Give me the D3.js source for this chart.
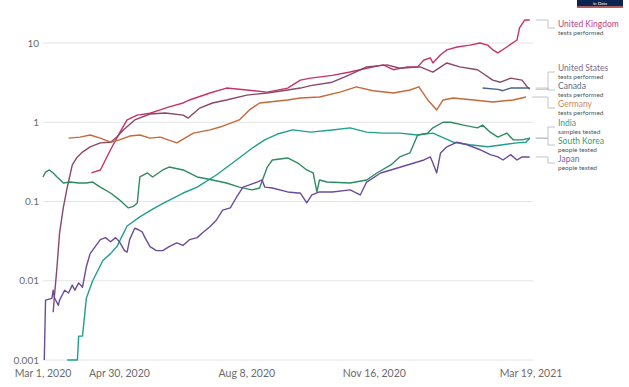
<!DOCTYPE html>
<html>
<head>
<meta charset="utf-8">
<script src="https://cdn.jsdelivr.net/npm/d3@7"></script>
<style>
  html, body { margin: 0; padding: 0; background: #fff; }
  svg { display: block; font-family: Lato, "Liberation Sans", Arial, sans-serif; }
</style>
</head>
<body>
<svg id="chart" width="629" height="387"></svg>
<script>
// Daily COVID-19 tests per thousand people (7-day smoothed), log scale.

const unitedKingdom = [["2020-04-08",0.23],["2020-04-15",0.25],["2020-04-23",0.45],["2020-04-30",0.73],["2020-05-06",1.07],["2020-05-14",1.23],["2020-05-24",1.3],["2020-06-01",1.43],["2020-06-08",1.56],["2020-06-19",1.75],["2020-06-24",1.91],["2020-07-10",2.34],["2020-07-23",2.7],["2020-08-08",2.55],["2020-08-24",2.4],["2020-09-09",2.7],["2020-09-19",3.4],["2020-09-27",3.6],["2020-10-14",3.9],["2020-10-28",4.3],["2020-11-10",4.8],["2020-11-23",5.3],["2020-12-01",4.6],["2020-12-12",5.0],["2020-12-20",5.0],["2020-12-25",6.1],["2020-12-30",6.5],["2021-01-01",5.6],["2021-01-07",7.1],["2021-01-12",8.2],["2021-01-20",8.9],["2021-01-30",9.4],["2021-02-07",10],["2021-02-13",9.4],["2021-02-17",8.2],["2021-02-21",7.5],["2021-02-28",8.9],["2021-03-08",10.9],["2021-03-10",15.5],["2021-03-14",19.5],["2021-03-18",19.5]];

const unitedStates = [["2020-03-09",0.004],["2020-03-10",0.0065],["2020-03-12",0.015],["2020-03-14",0.04],["2020-03-17",0.085],["2020-03-20",0.15],["2020-03-24",0.29],["2020-03-28",0.365],["2020-04-01",0.42],["2020-04-07",0.49],["2020-04-15",0.55],["2020-04-23",0.56],["2020-04-28",0.65],["2020-05-03",0.8],["2020-05-12",1.07],["2020-05-24",1.27],["2020-06-05",1.31],["2020-06-19",1.23],["2020-06-23",1.13],["2020-07-02",1.51],["2020-07-12",1.75],["2020-07-23",1.91],["2020-08-08",2.2],["2020-08-24",2.34],["2020-09-09",2.55],["2020-09-19",2.7],["2020-09-27",2.9],["2020-10-14",3.2],["2020-10-28",4.0],["2020-11-10",5.0],["2020-11-26",5.3],["2020-12-06",4.8],["2020-12-22",5.0],["2021-01-01",4.3],["2021-01-12",5.6],["2021-01-22",5.0],["2021-02-05",4.6],["2021-02-17",3.4],["2021-02-23",3.2],["2021-03-03",3.6],["2021-03-12",3.4],["2021-03-16",2.8],["2021-03-18",2.6]];

const canada = [["2021-02-09",2.7],["2021-02-21",2.6],["2021-02-25",2.5],["2021-03-03",2.7],["2021-03-18",2.7]];

const germany = [["2020-03-21",0.63],["2020-03-30",0.65],["2020-04-07",0.69],["2020-04-15",0.63],["2020-04-23",0.56],["2020-04-30",0.6],["2020-05-08",0.67],["2020-05-16",0.69],["2020-05-24",0.63],["2020-06-01",0.65],["2020-06-14",0.55],["2020-06-27",0.73],["2020-07-10",0.8],["2020-07-18",0.87],["2020-08-02",1.07],["2020-08-10",1.43],["2020-08-18",1.75],["2020-09-09",1.91],["2020-09-19",2.02],["2020-10-04",2.08],["2020-10-20",2.4],["2020-11-02",2.8],["2020-11-15",2.5],["2020-12-01",2.34],["2020-12-14",2.55],["2020-12-21",2.8],["2020-12-28",1.91],["2021-01-04",1.43],["2021-01-09",1.91],["2021-01-17",2.02],["2021-02-02",1.91],["2021-02-17",1.8],["2021-03-05",1.91],["2021-03-15",2.08]];

const india = [["2020-03-20",0.001],["2020-03-28",0.001],["2020-03-29",0.002],["2020-04-01",0.002],["2020-04-04",0.006],["2020-04-09",0.01],["2020-04-17",0.018],["2020-04-23",0.022],["2020-04-28",0.027],["2020-05-06",0.049],["2020-05-16",0.064],["2020-05-26",0.08],["2020-06-04",0.096],["2020-06-19",0.128],["2020-06-30",0.152],["2020-07-15",0.216],["2020-08-02",0.354],["2020-08-12",0.47],["2020-08-22",0.6],["2020-09-01",0.71],["2020-09-13",0.8],["2020-09-27",0.75],["2020-10-14",0.8],["2020-10-28",0.85],["2020-11-10",0.75],["2020-11-23",0.73],["2020-12-06",0.73],["2020-12-20",0.69],["2021-01-01",0.73],["2021-01-17",0.56],["2021-01-30",0.52],["2021-02-13",0.49],["2021-02-25",0.52],["2021-03-08",0.55],["2021-03-15",0.56],["2021-03-18",0.63]];

const southKorea = [["2020-03-01",0.204],["2020-03-03",0.235],["2020-03-06",0.25],["2020-03-09",0.229],["2020-03-12",0.204],["2020-03-17",0.171],["2020-03-22",0.176],["2020-03-29",0.171],["2020-04-04",0.171],["2020-04-09",0.176],["2020-04-15",0.152],["2020-04-23",0.128],["2020-04-30",0.105],["2020-05-07",0.083],["2020-05-11",0.087],["2020-05-14",0.096],["2020-05-16",0.204],["2020-05-22",0.229],["2020-05-26",0.204],["2020-06-03",0.25],["2020-06-08",0.272],["2020-06-19",0.25],["2020-06-30",0.204],["2020-07-12",0.187],["2020-07-23",0.171],["2020-08-02",0.152],["2020-08-12",0.14],["2020-08-18",0.148],["2020-08-24",0.272],["2020-08-28",0.334],["2020-09-09",0.354],["2020-09-17",0.306],["2020-09-24",0.25],["2020-09-29",0.229],["2020-10-02",0.132],["2020-10-04",0.187],["2020-10-10",0.176],["2020-10-28",0.171],["2020-11-10",0.187],["2020-11-18",0.229],["2020-11-29",0.289],["2020-12-06",0.365],["2020-12-14",0.41],["2020-12-20",0.69],["2020-12-28",0.73],["2021-01-01",0.85],["2021-01-09",1.0],["2021-01-15",1.0],["2021-01-25",0.92],["2021-02-05",0.85],["2021-02-09",0.92],["2021-02-15",0.75],["2021-02-21",0.65],["2021-02-28",0.73],["2021-03-05",0.6],["2021-03-12",0.6],["2021-03-18",0.63]];

const japan = [["2020-03-02",0.001],["2020-03-03",0.0057],["2020-03-08",0.006],["2020-03-09",0.0076],["2020-03-10",0.0061],["2020-03-13",0.0049],["2020-03-14",0.0057],["2020-03-18",0.0076],["2020-03-21",0.007],["2020-03-24",0.0088],["2020-03-26",0.0076],["2020-03-29",0.0094],["2020-04-01",0.0083],["2020-04-04",0.015],["2020-04-07",0.022],["2020-04-11",0.027],["2020-04-15",0.033],["2020-04-19",0.035],["2020-04-23",0.031],["2020-04-27",0.035],["2020-04-30",0.031],["2020-05-04",0.024],["2020-05-06",0.023],["2020-05-08",0.033],["2020-05-12",0.046],["2020-05-15",0.044],["2020-05-18",0.041],["2020-05-20",0.035],["2020-05-24",0.027],["2020-05-29",0.024],["2020-06-03",0.024],["2020-06-08",0.027],["2020-06-14",0.03],["2020-06-19",0.028],["2020-06-24",0.033],["2020-06-30",0.035],["2020-07-04",0.04],["2020-07-10",0.048],["2020-07-15",0.058],["2020-07-20",0.078],["2020-07-26",0.083],["2020-07-31",0.114],["2020-08-05",0.152],["2020-08-10",0.162],["2020-08-16",0.176],["2020-08-20",0.187],["2020-08-22",0.152],["2020-08-28",0.148],["2020-09-09",0.132],["2020-09-17",0.128],["2020-09-19",0.128],["2020-09-24",0.096],["2020-09-28",0.121],["2020-10-04",0.132],["2020-10-14",0.132],["2020-10-28",0.14],["2020-11-05",0.121],["2020-11-10",0.176],["2020-11-21",0.229],["2020-11-29",0.25],["2020-12-12",0.289],["2020-12-25",0.334],["2020-12-30",0.365],["2021-01-01",0.306],["2021-01-04",0.229],["2021-01-07",0.41],["2021-01-12",0.49],["2021-01-20",0.56],["2021-01-28",0.52],["2021-02-07",0.45],["2021-02-15",0.39],["2021-02-21",0.365],["2021-02-25",0.334],["2021-03-03",0.39],["2021-03-08",0.334],["2021-03-12",0.365],["2021-03-18",0.365]];

const yTickValues = [0.001, 0.01, 0.1, 1, 10];
const yTickLabels = ["0.001", "0.01", "0.1", "1", "10"];
const xTickDates = ["2020-03-01", "2020-04-30", "2020-08-08", "2020-11-16", "2021-03-19"];
const xTickLabels = ["Mar 1, 2020", "Apr 30, 2020", "Aug 8, 2020", "Nov 16, 2020", "Mar 19, 2021"];

const parse = d3.timeParse("%Y-%m-%d");

const series = [
  { name: "United Kingdom", metric: "tests performed", data: unitedKingdom, color: "#c8326c", labelColor: "#c2417a", labelY: 24 },
  { name: "United States",  metric: "tests performed", data: unitedStates,  color: "#8a4768", labelColor: "#7b6c86", labelY: 68 },
  { name: "Canada",         metric: "tests performed", data: canada,        color: "#4a6388", labelColor: "#5d6b86", labelY: 86 },
  { name: "Germany",        metric: "tests performed", data: germany,       color: "#c4693a", labelColor: "#cc8a5e", labelY: 104 },
  { name: "India",          metric: "samples tested",  data: india,         color: "#1f9f8e", labelColor: "#2aa3a0", labelY: 123 },
  { name: "South Korea",    metric: "people tested",   data: southKorea,    color: "#2f8a62", labelColor: "#3a9a72", labelY: 141 },
  { name: "Japan",          metric: "people tested",   data: japan,         color: "#6a4c98", labelColor: "#7a62a8", labelY: 159 }
];

const svg = d3.select("#chart");

const x = d3.scaleTime()
  .domain([parse("2020-03-01"), parse("2021-03-19")])
  .range([43, 531]);

const y = d3.scaleLog()
  .domain([0.001, 10])
  .range([360, 43]);

// Horizontal gridlines
svg.append("g")
  .selectAll("line")
  .data(yTickValues)
  .join("line")
  .attr("x1", x.range()[0])
  .attr("x2", x.range()[1] + 2)
  .attr("y1", d => y(d))
  .attr("y2", d => y(d))
  .attr("stroke", "#e4e4e4")
  .attr("stroke-width", 1);

// Y-axis tick labels
svg.append("g")
  .selectAll("text")
  .data(yTickValues)
  .join("text")
  .attr("x", 39)
  .attr("y", d => y(d) + 3.5)
  .attr("text-anchor", "end")
  .attr("font-size", 10)
  .attr("fill", "#6b6b6b")
  .text((d, i) => yTickLabels[i]);

// X-axis tick labels
svg.append("g")
  .selectAll("text")
  .data(xTickDates)
  .join("text")
  .attr("x", d => x(parse(d)))
  .attr("y", 377)
  .attr("text-anchor", "middle")
  .attr("font-size", 10.5)
  .attr("fill", "#6b6b6b")
  .text((d, i) => xTickLabels[i]);

// Series lines
const line = d3.line()
  .x(d => x(parse(d[0])))
  .y(d => y(d[1]));

svg.append("g")
  .selectAll("path")
  .data(series)
  .join("path")
  .attr("d", s => line(s.data))
  .attr("fill", "none")
  .attr("stroke", s => s.color)
  .attr("stroke-width", 1.4)
  .attr("stroke-linejoin", "round");

// Connectors from each line end to its label
const elbowX = 548;
const labelX = 558;
svg.append("g")
  .selectAll("path")
  .data(series)
  .join("path")
  .attr("d", s => {
    const last = s.data[s.data.length - 1];
    const x0 = x(parse(last[0])) + 6;
    const y0 = y(last[1]);
    const y1 = s.labelY + 4;
    return `M${x0},${y0}H${elbowX}V${y1}H${labelX - 3}`;
  })
  .attr("fill", "none")
  .attr("stroke", "#b5b5b5")
  .attr("stroke-width", 0.8);

// Labels: country name plus metric
const labels = svg.append("g")
  .selectAll("g")
  .data(series)
  .join("g");

labels.append("text")
  .attr("x", labelX)
  .attr("y", s => s.labelY + 3)
  .attr("font-size", 8.5)
  .attr("fill", s => s.labelColor)
  .text(s => s.name);

labels.append("text")
  .attr("x", labelX)
  .attr("y", s => s.labelY + 11)
  .attr("font-size", 6.5)
  .attr("fill", "#555")
  .text(s => s.metric);

// Logo block in the top-right corner
const logo = svg.append("g");
logo.append("rect").attr("x", 577).attr("y", 0).attr("width", 46).attr("height", 6.5).attr("fill", "#0b2550");
logo.append("rect").attr("x", 577).attr("y", 6.5).attr("width", 46).attr("height", 1.3).attr("fill", "#ce261e");
logo.append("text").attr("x", 600).attr("y", 5).attr("text-anchor", "middle")
  .attr("font-size", 4.5).attr("fill", "#fff").text("in Data");
</script>
</body>
</html>
